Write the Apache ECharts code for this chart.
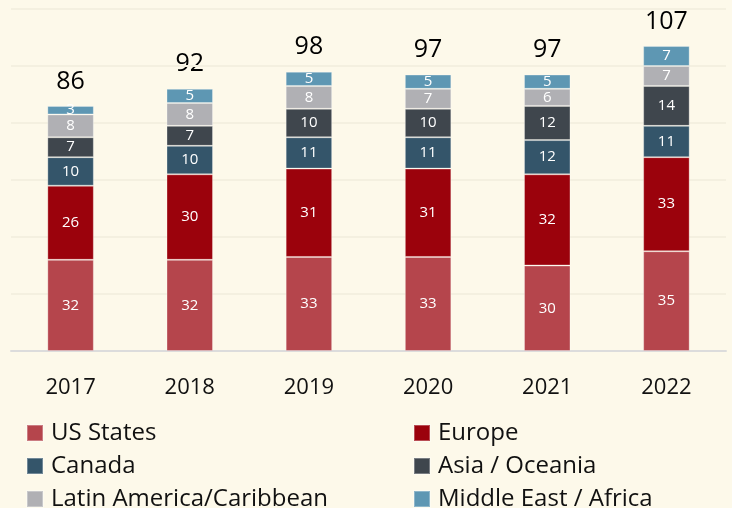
<!DOCTYPE html>
<html>
<head>
<meta charset="utf-8">
<script src="https://cdn.jsdelivr.net/npm/echarts@6/dist/echarts.min.js"></script>
<style>
  html, body { margin: 0; padding: 0; background: #fdf9ea; }
  #chart { width: 732px; height: 508px; }
</style>
</head>
<body>
<div id="chart"></div>
<script>
// Dữ liệu biểu đồ
const years = ['2017', '2018', '2019', '2020', '2021', '2022'];
const usStates = [32, 32, 33, 33, 30, 35];
const europe = [26, 30, 31, 31, 32, 33];
const canada = [10, 10, 11, 11, 12, 11];
const asiaOceania = [7, 7, 10, 10, 12, 14];
const latinAmerica = [8, 8, 8, 7, 6, 7];
const middleEast = [3, 5, 5, 5, 5, 7];
const totals = [86, 92, 98, 97, 97, 107];

const FONT = '"Open Sans", Lato, sans-serif';

function stackSeries(name, data, color) {
    return {
        name: name,
        type: 'bar',
        stack: 'total',
        barWidth: '39%',
        data: data,
        itemStyle: { color: color, borderColor: 'rgba(255,255,255,0.3)', borderWidth: 1 },
        label: {
            show: true,
            position: 'inside',
            color: '#ffffff',
            fontFamily: FONT,
            fontSize: 15
        }
    };
}

function legendBox(left, names) {
    return {
        orient: 'vertical',
        left: left,
        top: 421,
        height: 110,
        padding: 0,
        itemWidth: 16,
        itemHeight: 16,
        itemGap: 9,
        icon: 'rect',
        textStyle: {
            color: '#111', fontFamily: FONT, fontSize: 24,
            lineHeight: 24, padding: [0, 0, 0, 3]
        },
        data: names
    };
}

const chart = echarts.init(document.getElementById('chart'));
chart.setOption({
    backgroundColor: '#fdf9ea',
    animation: false,
    grid: { left: 11, right: 6, top: 9, bottom: 157 },
    xAxis: {
        type: 'category',
        data: years,
        axisLine: { lineStyle: { color: '#dcdcdc', width: 2 } },
        axisTick: { show: false },
        axisLabel: { color: '#111', fontFamily: FONT, fontSize: 22, margin: 26 }
    },
    yAxis: {
        type: 'value',
        min: 0,
        max: 120,
        interval: 20,
        axisLabel: { show: false },
        axisLine: { show: false },
        axisTick: { show: false },
        splitLine: { lineStyle: { color: '#f4f0e0', width: 2 } }
    },
    legend: [
        legendBox(26, ['US States', 'Canada', 'Latin America/Caribbean']),
        legendBox(413, ['Europe', 'Asia / Oceania', 'Middle East / Africa'])
    ],
    series: [
        stackSeries('US States', usStates, '#b5454c'),
        stackSeries('Europe', europe, '#9b020c'),
        stackSeries('Canada', canada, '#34556a'),
        stackSeries('Asia / Oceania', asiaOceania, '#3f464d'),
        stackSeries('Latin America/Caribbean', latinAmerica, '#b0b0b4'),
        stackSeries('Middle East / Africa', middleEast, '#5e97b3'),
        {
            name: 'Total',
            type: 'bar',
            barWidth: '39%',
            barGap: '-100%',
            data: totals,
            z: -1,
            itemStyle: { color: 'rgba(0,0,0,0)' },
            label: {
                show: true,
                position: 'top',
                distance: 12,
                color: '#000',
                fontFamily: FONT,
                fontSize: 25
            }
        }
    ]
});
</script>
</body>
</html>
